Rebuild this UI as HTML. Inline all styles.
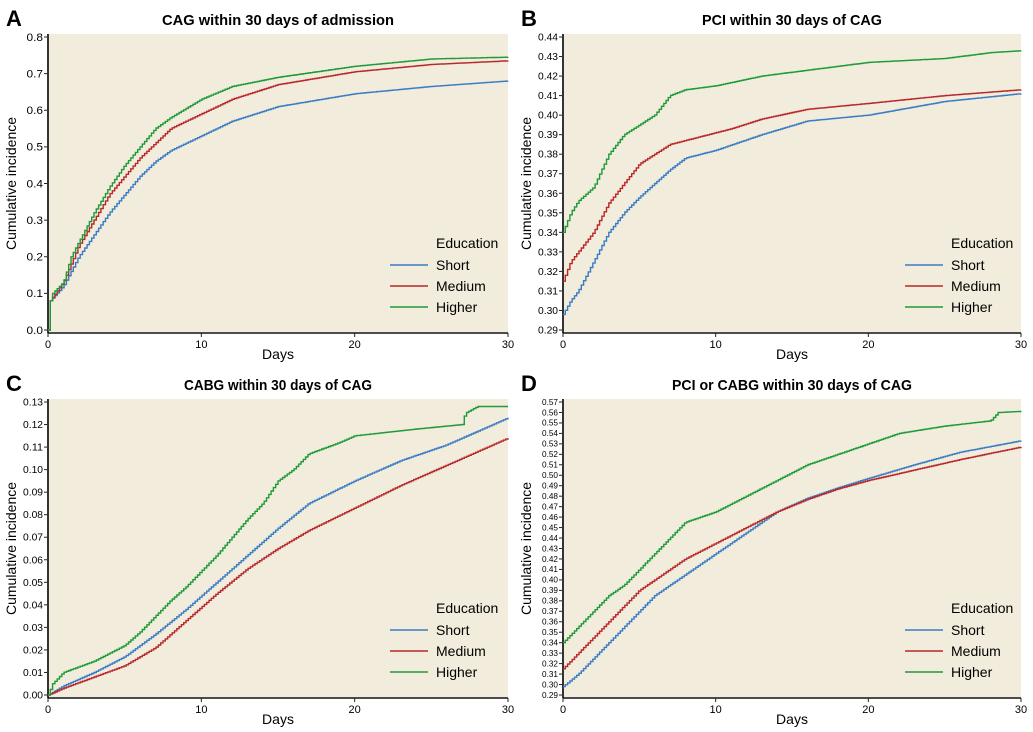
<!DOCTYPE html>
<html><head><meta charset="utf-8"><style>
body{margin:0;background:#fff;}
svg{display:block;font-family:"Liberation Sans",sans-serif;}
</style></head><body>
<svg id="s" width="1033" height="732" xmlns="http://www.w3.org/2000/svg"></svg>
<script>
const S=document.getElementById('s');let h='';
const C={b:'#3a7cc4',r:'#b8272b',g:'#1f9a3a'};
function panel(o){
 const {x0,x1,yTop,yBot,vmin,vmax,step,dec,fs,letter,title,lx,curves}=o;
 const X=d=>x0+(x1-x0)*d/30, Y=v=>yBot-(yBot-yTop)*(v-vmin)/(vmax-vmin);
 h+=`<rect x="${x0}" y="${yTop-3}" width="${x1-x0}" height="${yBot-yTop+5}" fill="#f1ecdb"/>`;
 h+=`<text x="${x0-42}" y="${yTop-11}" font-size="22" font-weight="bold">${letter}</text>`;
 h+=`<text x="${(x0+x1)/2}" y="${yTop-12}" font-size="15" font-weight="bold" text-anchor="middle" textLength="${title[1]}" lengthAdjust="spacingAndGlyphs">${title[0]}</text>`;
 const n=Math.round((vmax-vmin)/step);
 for(let i=0;i<=n;i++){const v=vmin+i*step,y=Y(v);
  h+=`<line x1="${x0-4}" x2="${x0}" y1="${y}" y2="${y}" stroke="#222"/>`;
  h+=`<text x="${x0-5}" y="${y+fs*0.35}" font-size="${fs}" text-anchor="end" textLength="${fs*0.5*(dec+2)}" lengthAdjust="spacingAndGlyphs">${v.toFixed(dec)}</text>`;}
 h+=`<line x1="${x0}" x2="${x0}" y1="${yTop-3}" y2="${yBot+3}" stroke="#333" stroke-width="2"/>`;
 h+=`<line x1="${x0}" x2="${x1}" y1="${yBot+3}" y2="${yBot+3}" stroke="#111" stroke-width="1.5"/>`;
 [0,10,20,30].forEach(d=>{h+=`<line x1="${X(d)}" x2="${X(d)}" y1="${yBot+3}" y2="${yBot+7}" stroke="#222"/><text x="${X(d)}" y="${yBot+18}" font-size="11" text-anchor="middle">${d}</text>`;});
 h+=`<text x="${(x0+x1)/2}" y="${yBot+29}" font-size="14" text-anchor="middle">Days</text>`;
 const cy=(yTop+yBot)/2;
 h+=`<text transform="translate(${x0-32},${cy}) rotate(-90)" font-size="14" text-anchor="middle">Cumulative incidence</text>`;
 for(const k of ['b','r','g']){const p=curves[k];let pts=[];let prev=null;
  for(let d=0;d<=30.001;d+=0.15){let v=p[p.length-1][1];
   for(let j=0;j<p.length-1;j++){if(d>=p[j][0]&&d<=p[j+1][0]){v=p[j][1]+(p[j+1][1]-p[j][1])*(d-p[j][0])/(p[j+1][0]-p[j][0]);break;}}
   const x=X(d).toFixed(1),y=Y(v).toFixed(1);
   if(prev!==null)pts.push(x+','+prev);pts.push(x+','+y);prev=y;}
  h+=`<polyline points="${pts.join(' ')}" fill="none" stroke="${C[k]}" stroke-width="1.4"/>`;}
 const ly=yBot-82;
 h+=`<text x="${lx+46}" y="${ly}" font-size="14">Education</text>`;
 [['b','Short'],['r','Medium'],['g','Higher']].forEach(([k,t],i)=>{const y=ly+21*(i+1);
  h+=`<line x1="${lx}" x2="${lx+38}" y1="${y-4}" y2="${y-4}" stroke="${C[k]}" stroke-width="1.4"/><text x="${lx+46}" y="${y+1}" font-size="14">${t}</text>`;});
}
panel({x0:48,x1:508,yTop:37,yBot:330,vmin:0,vmax:0.8,step:0.1,dec:1,fs:11,letter:'A',title:['CAG within 30 days of admission',232],lx:390,
curves:{g:[[0,0],[0.1,0],[0.15,0.08],[0.3,0.1],[1,0.13],[1.5,0.2],[2,0.24],[3,0.32],[4,0.39],[5,0.45],[6,0.5],[7,0.55],[8,0.58],[10,0.63],[12,0.665],[15,0.69],[20,0.72],[25,0.74],[30,0.745]],
r:[[0,0],[0.1,0],[0.15,0.08],[1,0.13],[2,0.23],[3,0.3],[4,0.37],[5,0.42],[6,0.47],[7,0.51],[8,0.55],[10,0.59],[12,0.63],[15,0.67],[20,0.705],[25,0.725],[30,0.735]],
b:[[0,0],[0.1,0],[0.15,0.08],[1,0.12],[2,0.2],[3,0.26],[4,0.32],[5,0.37],[6,0.42],[7,0.46],[8,0.49],[10,0.53],[12,0.57],[15,0.61],[20,0.645],[25,0.665],[30,0.68]]}});
panel({x0:563,x1:1021,yTop:37,yBot:330,vmin:0.29,vmax:0.44,step:0.01,dec:2,fs:10,letter:'B',title:['PCI within 30 days of CAG',180],lx:905,
curves:{g:[[0,0.34],[0.5,0.35],[1,0.356],[2,0.363],[3,0.38],[4,0.39],[5,0.395],[6,0.4],[7,0.41],[8,0.413],[10,0.415],[13,0.42],[16,0.423],[20,0.427],[25,0.429],[28,0.432],[30,0.433]],
r:[[0,0.315],[0.5,0.325],[1,0.33],[2,0.34],[3,0.355],[4,0.365],[5,0.375],[6,0.38],[7,0.385],[9,0.389],[11,0.393],[13,0.398],[16,0.403],[20,0.406],[25,0.41],[30,0.413]],
b:[[0,0.298],[0.5,0.305],[1,0.31],[2,0.325],[3,0.34],[4,0.35],[5,0.358],[6,0.365],[7,0.372],[8,0.378],[10,0.382],[13,0.39],[16,0.397],[20,0.4],[25,0.407],[30,0.411]]}});
panel({x0:48,x1:508,yTop:402,yBot:695,vmin:0,vmax:0.13,step:0.01,dec:2,fs:10,letter:'C',title:['CABG within 30 days of CAG',188],lx:390,
curves:{g:[[0,0],[0.3,0.005],[1,0.01],[3,0.015],[5,0.022],[6,0.028],[7,0.035],[8,0.042],[9,0.048],[10,0.055],[11,0.062],[12,0.07],[13,0.078],[14,0.085],[15,0.095],[16,0.1],[17,0.107],[19,0.112],[20,0.115],[24,0.118],[27,0.12],[27.2,0.125],[28,0.128],[30,0.128]],
b:[[0,0],[1,0.004],[3,0.01],[5,0.017],[7,0.027],[9,0.038],[11,0.05],[13,0.062],[15,0.074],[17,0.085],[20,0.095],[23,0.104],[26,0.111],[30,0.123]],
r:[[0,0],[1,0.003],[3,0.008],[5,0.013],[7,0.021],[9,0.033],[11,0.045],[13,0.056],[15,0.065],[17,0.073],[20,0.083],[23,0.093],[26,0.102],[30,0.114]]}});
panel({x0:563,x1:1021,yTop:402,yBot:695,vmin:0.29,vmax:0.57,step:0.01,dec:2,fs:8,letter:'D',title:['PCI or CABG within 30 days of CAG',240],lx:905,
curves:{g:[[0,0.34],[1,0.355],[2,0.37],[3,0.385],[4,0.395],[5,0.41],[6,0.425],[7,0.44],[8,0.455],[10,0.465],[12,0.48],[14,0.495],[16,0.51],[18,0.52],[20,0.53],[22,0.54],[25,0.547],[28,0.552],[28.5,0.56],[30,0.561]],
r:[[0,0.315],[1,0.33],[2,0.345],[3,0.36],[4,0.375],[5,0.39],[6,0.4],[8,0.42],[10,0.435],[12,0.45],[14,0.465],[16,0.477],[18,0.487],[20,0.495],[23,0.505],[26,0.515],[30,0.527]],
b:[[0,0.298],[1,0.31],[2,0.325],[3,0.34],[4,0.355],[5,0.37],[6,0.385],[8,0.405],[10,0.425],[12,0.445],[14,0.465],[16,0.478],[18,0.488],[20,0.497],[23,0.51],[26,0.522],[30,0.533]]}});
S.innerHTML=h;
</script>
</body></html>
